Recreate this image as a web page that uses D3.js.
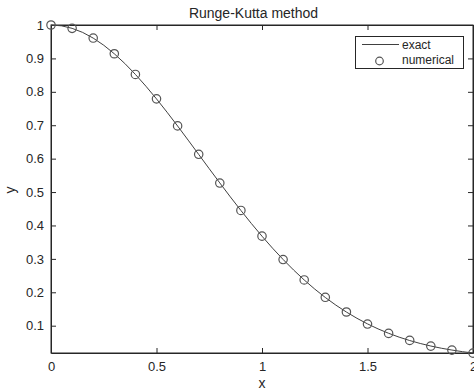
<!DOCTYPE html>
<html>
  <head>
    <meta charset="UTF-8">
    <style>
      body { margin: 0; background: #fff; }
      text { font-family: "Liberation Sans", Arial, sans-serif; fill: #262626; }
    </style>
    <script src="https://d3js.org/d3.v7.min.js"></script>
  </head>
  <body>
    <script>
      // exact curve, read at steps of 0.05
      var exactX = [0, 0.05, 0.1, 0.15, 0.2, 0.25, 0.3, 0.35, 0.4, 0.45, 0.5, 0.55, 0.6, 0.65, 0.7, 0.75, 0.8, 0.85, 0.9, 0.95,
        1.0, 1.05, 1.1, 1.15, 1.2, 1.25, 1.3, 1.35, 1.4, 1.45, 1.5, 1.55, 1.6, 1.65, 1.7, 1.75, 1.8, 1.85, 1.9, 1.95, 2.0];
      var exactY = [1, 0.9975, 0.9900, 0.9778, 0.9608, 0.9394, 0.9139, 0.8847, 0.8521, 0.8167, 0.7788, 0.7390, 0.6977, 0.6554,
        0.6126, 0.5698, 0.5273, 0.4855, 0.4449, 0.4056, 0.3679, 0.3320, 0.2982, 0.2665, 0.2369, 0.2096, 0.1845, 0.1616,
        0.1409, 0.1222, 0.1054, 0.0905, 0.0773, 0.0657, 0.0556, 0.0468, 0.0392, 0.0326, 0.0271, 0.0223, 0.0183];
      // numerical points
      var numX = [0, 0.1, 0.2, 0.3, 0.4, 0.5, 0.6, 0.7, 0.8, 0.9, 1.0, 1.1, 1.2, 1.3, 1.4, 1.5, 1.6, 1.7, 1.8, 1.9, 2.0];
      var numY = [1, 0.990, 0.961, 0.914, 0.852, 0.779, 0.698, 0.613, 0.527, 0.445, 0.368, 0.298, 0.237, 0.185, 0.141,
        0.105, 0.077, 0.056, 0.039, 0.027, 0.018];
      var xTicks = [0, 0.5, 1, 1.5, 2];
      var yTicks = [0.1, 0.2, 0.3, 0.4, 0.5, 0.6, 0.7, 0.8, 0.9, 1];

      var width = 474, height = 390;
      var pLeft = 51, pRight = 473, pTop = 25, pBottom = 353;
      var axisColor = "#262626";

      var x = d3.scaleLinear().domain([0, 2]).range([pLeft, pRight]);
      var y = d3.scaleLinear().domain([0.0183, 1]).range([pBottom, pTop]);

      var svg = d3.select("body").append("svg")
        .attr("width", width)
        .attr("height", height);

      // frame
      svg.append("rect")
        .attr("x", pLeft).attr("y", pTop)
        .attr("width", pRight - pLeft).attr("height", pBottom - pTop)
        .attr("fill", "none").attr("stroke", axisColor).attr("stroke-width", 1);

      var fmt = function(d) { return d3.format("")(d); };

      // bottom axis, ticks inward
      svg.append("g")
        .attr("transform", "translate(0," + pBottom + ")")
        .call(d3.axisBottom(x).tickValues(xTicks).tickSizeInner(-5).tickSizeOuter(0).tickPadding(9).tickFormat(fmt))
        .call(function(g) {
          g.select(".domain").attr("stroke", axisColor);
          g.selectAll("line").attr("stroke", axisColor);
          g.selectAll("text").style("font-size", "13px").attr("fill", axisColor);
        });
      // top ticks
      svg.append("g")
        .attr("transform", "translate(0," + pTop + ")")
        .call(d3.axisTop(x).tickValues(xTicks).tickSizeInner(-5).tickSizeOuter(0).tickFormat(""))
        .call(function(g) {
          g.select(".domain").attr("stroke", axisColor);
          g.selectAll("line").attr("stroke", axisColor);
        });
      // left axis
      svg.append("g")
        .attr("transform", "translate(" + pLeft + ",0)")
        .call(d3.axisLeft(y).tickValues(yTicks).tickSizeInner(-5).tickSizeOuter(0).tickPadding(7).tickFormat(fmt))
        .call(function(g) {
          g.select(".domain").attr("stroke", axisColor);
          g.selectAll("line").attr("stroke", axisColor);
          g.selectAll("text").style("font-size", "13px").attr("fill", axisColor);
        });
      // right ticks
      svg.append("g")
        .attr("transform", "translate(" + pRight + ",0)")
        .call(d3.axisRight(y).tickValues(yTicks).tickSizeInner(-5).tickSizeOuter(0).tickFormat(""))
        .call(function(g) {
          g.select(".domain").attr("stroke", axisColor);
          g.selectAll("line").attr("stroke", axisColor);
        });

      // exact line
      var exact = exactX.map(function(d, i) { return [d, exactY[i]]; });
      svg.append("path")
        .datum(exact)
        .attr("fill", "none")
        .attr("stroke", "#404040")
        .attr("stroke-width", 1)
        .attr("d", d3.line().x(function(d) { return x(d[0]); }).y(function(d) { return y(d[1]); }));

      // numerical markers
      var num = numX.map(function(d, i) { return [d, numY[i]]; });
      svg.append("g").selectAll("circle")
        .data(num)
        .enter().append("circle")
        .attr("cx", function(d) { return x(d[0]); })
        .attr("cy", function(d) { return y(d[1]); })
        .attr("r", 4.2)
        .attr("fill", "none")
        .attr("stroke", "#555")
        .attr("stroke-width", 1.2);

      // title and labels
      svg.append("text")
        .attr("x", 253.5).attr("y", 18)
        .attr("text-anchor", "middle")
        .style("font-size", "14px")
        .text("Runge-Kutta method");
      svg.append("text")
        .attr("x", (pLeft + pRight) / 2).attr("y", 388)
        .attr("text-anchor", "middle")
        .style("font-size", "14px")
        .text("x");
      svg.append("text")
        .attr("transform", "translate(15," + 190 + ") rotate(-90)")
        .attr("text-anchor", "middle")
        .style("font-size", "14px")
        .text("y");

      // legend
      var lg = svg.append("g");
      lg.append("rect")
        .attr("x", 355.5).attr("y", 36.5)
        .attr("width", 108).attr("height", 32)
        .attr("fill", "#fff").attr("stroke", axisColor).attr("stroke-width", 1);
      lg.append("line")
        .attr("x1", 362).attr("x2", 399).attr("y1", 44.5).attr("y2", 44.5)
        .attr("stroke", "#404040");
      lg.append("text").attr("x", 402).attr("y", 48.5).style("font-size", "12px").text("exact");
      lg.append("circle")
        .attr("cx", 379.5).attr("cy", 61).attr("r", 3.8)
        .attr("fill", "none").attr("stroke", "#555").attr("stroke-width", 1.2);
      lg.append("text").attr("x", 402).attr("y", 63.5).style("font-size", "12px").text("numerical");
    </script>
  </body>
</html>
